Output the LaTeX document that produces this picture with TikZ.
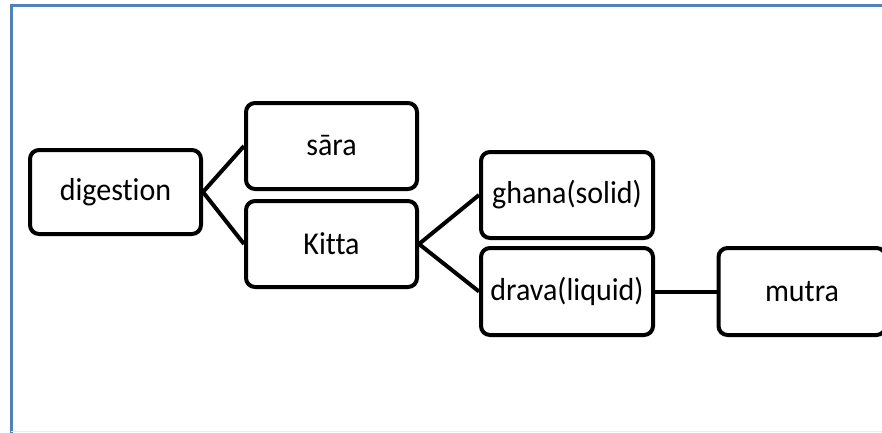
\documentclass[tikz,border=0pt]{standalone}
\usepackage{fontspec}
\setmainfont{Carlito}[Ligatures={NoCommon}]
\definecolor{framecol}{RGB}{79,129,189}
\begin{document}
\begin{tikzpicture}[x=1pt,y=-1pt,
  box/.style={draw=black,line width=4pt,rounded corners=9pt,fill=white,
    inner sep=0pt,font=\fontsize{30}{36}\selectfont},
  link/.style={draw=black,line width=4pt}]
\useasboundingbox (0,0) rectangle (882,432);
\clip (0,0) rectangle (882,432);
% outer frame
\draw[framecol,line width=3pt] (11,5) rectangle (900,460);
\draw[black!8,line width=1pt] (11,431.5) -- (882,431.5);
% boxes
\node[box,minimum width=171pt,minimum height=84pt] (dig) at (115.5,192) {\scalebox{1}[1.06]{digestion}};
\node[box,minimum width=171pt,minimum height=86pt] (sara) at (331.5,146) {\scalebox{1}[1.06]{sāra}};
\node[box,minimum width=171pt,minimum height=86pt] (kitta) at (331.5,244) {\scalebox{1}[1.06]{Kitta}};
\node[box,minimum width=172pt,minimum height=86pt] (ghana) at (567,195) {\scalebox{1}[1.06]{ghana(solid)}};
\node[box,minimum width=172pt,minimum height=87pt] (drava) at (567,291.5) {\scalebox{1}[1.06]{drava(liquid)}};
\node[box,minimum width=167pt,minimum height=87pt] (mutra) at (802,291.5) {\scalebox{1}[1.06]{mutra}};
% connectors
\draw[link] (dig.east) -- (sara.west);
\draw[link] (dig.east) -- (kitta.west);
\draw[link] (kitta.east) -- (ghana.west);
\draw[link] (kitta.east) -- (drava.west);
\draw[link] (drava.east) -- (mutra.west);
\end{tikzpicture}
\end{document}
